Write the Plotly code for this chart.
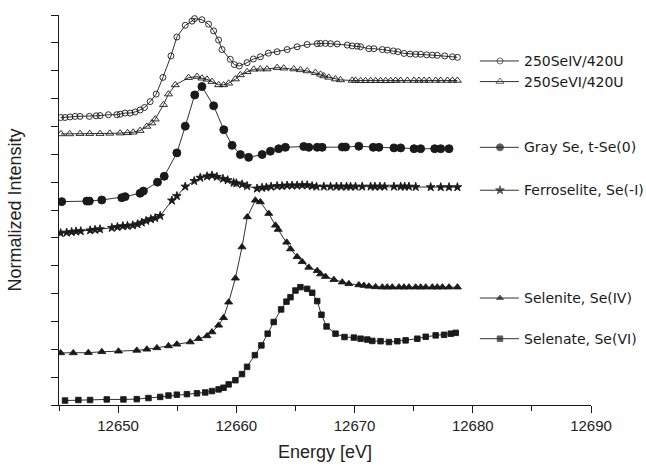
import plotly.graph_objects as go

# ---- Se K-edge XANES spectra (energy in eV, normalized intensity, vertically offset) ----
seiv_u_energy = [12645.14, 12645.51, 12645.93, 12646.36, 12646.78, 12647.57, 12648.14, 12648.47,
                 12649.18, 12649.89, 12650.17, 12650.59, 12651.02, 12651.44, 12651.86, 12652.23,
                 12652.71, 12653.22, 12653.79, 12654.47, 12654.97, 12655.68, 12656.25, 12656.47,
                 12657.09, 12657.65, 12658.08, 12658.50, 12658.79, 12659.49, 12659.83, 12660.25,
                 12660.91, 12661.44, 12662.03, 12662.71, 12663.45, 12664.30, 12665.14, 12665.99,
                 12666.84, 12667.12, 12667.54, 12667.97, 12668.53, 12669.38, 12669.80, 12670.22,
                 12670.51, 12671.21, 12671.64, 12672.35, 12672.77, 12673.28, 12673.67, 12674.18,
                 12674.69, 12675.17, 12675.59, 12676.10, 12676.58, 12677.00, 12677.63, 12678.28,
                 12678.70]
seiv_u_intensity = [10.32, 10.32, 10.34, 10.36, 10.36, 10.36, 10.38, 10.39,
                    10.42, 10.42, 10.44, 10.48, 10.48, 10.52, 10.59, 10.68,
                    10.89, 11.16, 11.76, 12.53, 13.21, 13.63, 13.78, 13.87,
                    13.83, 13.67, 13.43, 13.10, 12.76, 12.41, 12.22, 12.17,
                    12.29, 12.42, 12.50, 12.63, 12.68, 12.76, 12.86, 12.94,
                    12.97, 12.98, 12.98, 12.97, 12.96, 12.92, 12.89, 12.88,
                    12.86, 12.79, 12.79, 12.76, 12.74, 12.71, 12.68, 12.62,
                    12.60, 12.59, 12.59, 12.57, 12.56, 12.55, 12.53, 12.50,
                    12.48]

sevi_u_energy = [12645.17, 12645.90, 12646.78, 12647.60, 12648.47, 12649.30, 12650.17, 12650.80,
                 12651.27, 12651.86, 12652.43, 12652.86, 12653.14, 12653.84, 12654.26, 12654.83,
                 12655.96, 12656.67, 12657.09, 12657.52, 12657.94, 12658.50, 12658.92, 12659.35,
                 12659.92, 12660.34, 12660.91, 12661.47, 12662.03, 12662.60, 12663.45, 12664.01,
                 12664.86, 12665.42, 12665.99, 12666.69, 12667.12, 12667.40, 12667.82, 12668.39,
                 12668.81, 12669.80, 12670.08, 12670.51, 12670.93, 12671.36, 12671.78, 12672.20,
                 12672.63, 12673.05, 12673.47, 12673.90, 12674.47, 12675.03, 12675.45, 12675.88,
                 12676.30, 12676.86, 12677.29, 12677.86, 12678.28, 12678.70]
sevi_u_intensity = [9.73, 9.73, 9.74, 9.74, 9.74, 9.75, 9.76, 9.77,
                    9.79, 9.85, 10.00, 10.12, 10.26, 10.78, 11.16, 11.49,
                    11.75, 11.79, 11.73, 11.69, 11.61, 11.49, 11.49, 11.55,
                    11.70, 11.85, 11.96, 12.05, 12.06, 12.06, 12.11, 12.09,
                    12.06, 12.03, 11.99, 11.93, 11.87, 11.81, 11.76, 11.70,
                    11.67, 11.65, 11.65, 11.64, 11.64, 11.64, 11.64, 11.64,
                    11.64, 11.64, 11.65, 11.65, 11.65, 11.65, 11.65, 11.65,
                    11.65, 11.65, 11.65, 11.65, 11.65, 11.65]

gray_energy = [12645.23, 12647.35, 12647.57, 12648.62, 12650.31, 12650.59, 12651.86, 12652.14,
               12653.33, 12653.90, 12654.97, 12655.68, 12656.48, 12657.09, 12658.08, 12658.94,
               12659.64, 12660.34, 12661.04, 12662.18, 12662.88, 12663.58, 12664.15, 12665.70,
               12666.13, 12666.84, 12667.26, 12668.96, 12669.24, 12670.36, 12671.58, 12672.06,
               12673.33, 12673.90, 12675.03, 12675.59, 12676.78, 12677.29, 12677.99]
gray_intensity = [7.30, 7.32, 7.32, 7.36, 7.44, 7.48, 7.60, 7.68,
                  8.00, 8.21, 9.05, 10.01, 11.13, 11.43, 10.74, 9.88,
                  9.32, 8.99, 8.89, 8.99, 9.11, 9.20, 9.25, 9.28,
                  9.25, 9.25, 9.25, 9.26, 9.26, 9.29, 9.25, 9.25,
                  9.23, 9.23, 9.20, 9.20, 9.20, 9.20, 9.20]

ferro_energy = [12645.14, 12645.65, 12646.07, 12646.44, 12646.84, 12647.63, 12648.05, 12648.47,
                12649.47, 12649.94, 12650.40, 12650.79, 12651.24, 12651.64, 12652.00, 12652.37,
                12652.77, 12653.14, 12653.56, 12654.55, 12654.97, 12655.68, 12656.44, 12656.95,
                12657.52, 12657.94, 12658.36, 12658.87, 12659.27, 12659.77, 12660.00, 12660.49,
                12660.91, 12661.75, 12662.18, 12662.54, 12662.94, 12663.45, 12663.87, 12664.30,
                12664.72, 12665.14, 12665.57, 12665.99, 12666.41, 12666.78, 12667.40, 12667.97,
                12668.47, 12668.87, 12669.32, 12669.66, 12670.08, 12670.65, 12671.36, 12671.72,
                12672.14, 12672.54, 12673.33, 12673.90, 12674.24, 12674.60, 12675.17, 12676.44,
                12677.29, 12677.99, 12678.70]
ferro_intensity = [6.17, 6.19, 6.21, 6.23, 6.24, 6.27, 6.29, 6.31,
                   6.36, 6.39, 6.42, 6.43, 6.45, 6.49, 6.55, 6.61,
                   6.67, 6.71, 6.79, 7.34, 7.50, 7.84, 8.04, 8.16,
                   8.21, 8.24, 8.19, 8.12, 8.07, 7.98, 7.96, 7.92,
                   7.86, 7.77, 7.80, 7.81, 7.84, 7.86, 7.86, 7.88,
                   7.88, 7.88, 7.89, 7.89, 7.86, 7.84, 7.84, 7.84,
                   7.84, 7.84, 7.84, 7.84, 7.84, 7.84, 7.84, 7.84,
                   7.84, 7.84, 7.84, 7.84, 7.84, 7.84, 7.83, 7.82,
                   7.82, 7.82, 7.82]

selenite_energy = [12645.14, 12646.21, 12647.48, 12648.62, 12650.03, 12651.58, 12652.43, 12653.28,
                   12654.26, 12654.97, 12656.10, 12656.81, 12657.52, 12657.94, 12658.50, 12658.92,
                   12659.35, 12659.92, 12660.48, 12660.93, 12661.61, 12662.03, 12662.74, 12663.31,
                   12663.54, 12664.26, 12664.58, 12665.14, 12665.57, 12666.13, 12666.84, 12667.12,
                   12667.54, 12668.25, 12668.96, 12669.52, 12670.36, 12670.79, 12671.21, 12671.78,
                   12672.35, 12672.77, 12673.19, 12673.76, 12674.18, 12674.60, 12675.17, 12675.59,
                   12676.02, 12676.58, 12677.00, 12677.43, 12677.99, 12678.70]
selenite_intensity = [1.87, 1.87, 1.88, 1.91, 1.93, 1.96, 2.00, 2.05,
                      2.12, 2.18, 2.26, 2.38, 2.48, 2.62, 2.86, 3.13,
                      3.69, 4.55, 5.67, 6.75, 7.35, 7.29, 6.87, 6.45,
                      6.30, 5.84, 5.60, 5.32, 5.14, 4.94, 4.82, 4.70,
                      4.61, 4.50, 4.41, 4.35, 4.31, 4.29, 4.26, 4.24,
                      4.23, 4.23, 4.23, 4.23, 4.23, 4.23, 4.23, 4.23,
                      4.23, 4.23, 4.23, 4.23, 4.23, 4.23]

selenate_energy = [12645.51, 12646.64, 12647.63, 12649.04, 12650.45, 12651.58, 12652.57, 12653.56,
                   12654.26, 12654.97, 12655.82, 12656.67, 12657.37, 12657.94, 12658.50, 12658.92,
                   12659.35, 12659.92, 12660.48, 12660.91, 12661.57, 12662.12, 12662.65, 12663.16,
                   12663.79, 12664.24, 12664.58, 12665.00, 12665.42, 12665.99, 12666.42, 12666.84,
                   12667.20, 12667.63, 12668.39, 12669.15, 12669.94, 12670.51, 12671.08, 12671.50,
                   12672.20, 12672.91, 12673.62, 12674.32, 12675.31, 12676.02, 12676.86, 12677.57,
                   12678.14, 12678.56]
selenate_intensity = [0.16, 0.18, 0.18, 0.20, 0.20, 0.21, 0.25, 0.29,
                      0.34, 0.37, 0.39, 0.42, 0.45, 0.50, 0.56, 0.62,
                      0.74, 0.89, 1.11, 1.37, 1.79, 2.14, 2.56, 2.98,
                      3.43, 3.71, 3.87, 4.11, 4.23, 4.17, 4.03, 3.73,
                      3.24, 2.82, 2.56, 2.44, 2.42, 2.38, 2.35, 2.30,
                      2.29, 2.26, 2.29, 2.32, 2.38, 2.45, 2.50, 2.52,
                      2.56, 2.59]

series_names = ["250SeIV/420U", "250SeVI/420U", "Gray Se, t-Se(0)",
                "Ferroselite, Se(-I)", "Selenite, Se(IV)", "Selenate, Se(VI)"]
legend_rows = [12.35, 11.61, 9.25, 7.71, 3.84, 2.38]

x_ticks = [12650, 12660, 12670, 12680, 12690]

# marker style per series
styles = [
    dict(symbol="circle-open", size=6),
    dict(symbol="triangle-up-open", size=7),
    dict(symbol="circle", size=8),
    dict(symbol="star", size=6.5),
    dict(symbol="triangle-up", size=7),
    dict(symbol="square", size=5.5),
]
legend_sizes = [6, 7, 7, 6.5, 6, 5.5]

energies = [seiv_u_energy, sevi_u_energy, gray_energy, ferro_energy, selenite_energy, selenate_energy]
intensities = [seiv_u_intensity, sevi_u_intensity, gray_intensity, ferro_intensity,
               selenite_intensity, selenate_intensity]

ink = "#1a1a1a"
fig = go.Figure()

for e, i, st in zip(energies, intensities, styles):
    fig.add_trace(go.Scatter(
        x=e, y=i, mode="lines+markers",
        line=dict(color=ink, width=0.9),
        marker=dict(symbol=st["symbol"], size=st["size"], color=ink,
                    line=dict(color=ink, width=0.9)),
        showlegend=False, hoverinfo="skip",
    ))

# hand-placed key next to each curve end
key_x0, key_xm, key_x1, text_x = 12680.6, 12682.3, 12683.9, 12684.2
for name, row, st, ls in zip(series_names, legend_rows, styles, legend_sizes):
    fig.add_trace(go.Scatter(
        x=[key_x0, key_xm, key_x1], y=[row, row, row], mode="lines+markers",
        line=dict(color=ink, width=0.9),
        marker=dict(symbol=st["symbol"], size=[0, ls, 0], color=ink,
                    line=dict(color=ink, width=0.9)),
        showlegend=False, hoverinfo="skip", cliponaxis=False,
    ))
    fig.add_annotation(x=text_x, y=row, text=name, showarrow=False,
                       xanchor="left", yanchor="middle",
                       font=dict(family="DejaVu Sans", size=14, color=ink))

fig.update_xaxes(
    range=[12645, 12690], tickvals=x_ticks, tickformat="d", ticks="outside", ticklen=7,
    tickwidth=1.2, tickcolor=ink, showline=True, linecolor=ink, linewidth=1.3,
    showgrid=False, zeroline=False,
    minor=dict(dtick=5, tick0=12645, ticks="outside", ticklen=5, tickwidth=1.2, tickcolor=ink),
    tickfont=dict(family="Liberation Sans", size=15, color="#222"),
    title=dict(text="Energy [eV]", font=dict(family="Liberation Sans", size=18, color="#222"),
               standoff=12),
)
fig.update_yaxes(
    range=[0, 14], dtick=1, tick0=0, ticks="outside", ticklen=7, tickwidth=1.2, tickcolor=ink,
    showticklabels=False, showline=True, linecolor=ink, linewidth=1.3, showgrid=False,
    zeroline=False,
    title=dict(text="Normalized Intensity",
               font=dict(family="Liberation Sans", size=18, color="#222"), standoff=24),
)

fig.update_layout(
    width=646, height=471,
    margin=dict(l=59, r=55, t=15, b=64),
    plot_bgcolor="white", paper_bgcolor="white",
    showlegend=False,
)

fig.write_html("out.html")
